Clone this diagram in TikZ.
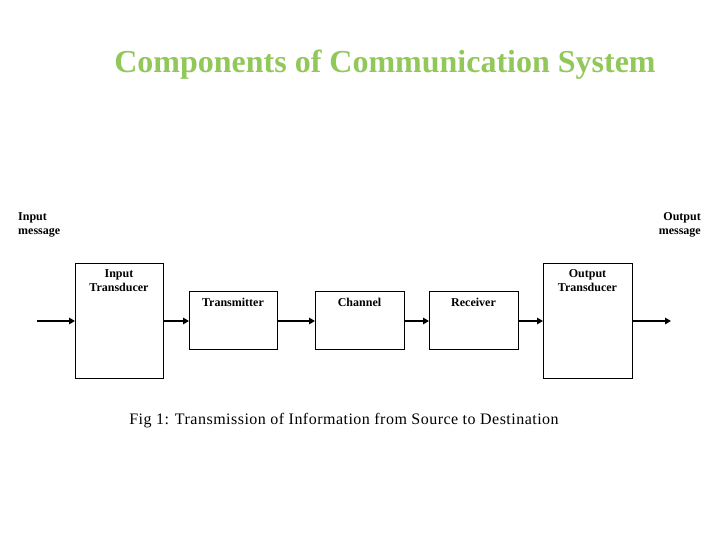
\documentclass[tikz,border=0pt]{standalone}
\usepackage{fontspec}
\setmainfont{Liberation Serif}
\usetikzlibrary{arrows.meta}
\definecolor{titlegreen}{HTML}{92C85A}
\begin{document}
\begin{tikzpicture}[x=1pt,y=-1pt,
  blk/.style={draw,line width=0.8pt,inner sep=0pt,outer sep=0pt},
  lbl/.style={font=\fontsize{12}{14}\selectfont\bfseries,align=center,inner sep=0pt},
  conn/.style={line width=1.8pt,-{Triangle[length=6pt,width=6.5pt]}}]
\useasboundingbox (0,0) rectangle (720,540);
\node[font=\fontsize{32}{36}\selectfont\bfseries,text=titlegreen] (title) at (385,65) {Components of Communication System};
% boxes
\node[blk,minimum width=88pt,minimum height=115pt] (it) at (119,320.5) {};
\node[blk,minimum width=88pt,minimum height=58pt] (tx) at (233,320) {};
\node[blk,minimum width=89pt,minimum height=58pt] (ch) at (359.5,320) {};
\node[blk,minimum width=89pt,minimum height=58pt] (rx) at (473.5,320) {};
\node[blk,minimum width=89pt,minimum height=115pt] (ot) at (587.5,320.5) {};
% labels
\node[lbl,anchor=north] (itl) at (119,269) {Input\\Transducer};
\node[lbl,anchor=north] (txl) at (233,298) {Transmitter};
\node[lbl,anchor=north] (chl) at (359.5,298) {Channel};
\node[lbl,anchor=north] (rxl) at (473.5,298) {Receiver};
\node[lbl,anchor=north] (otl) at (587.5,269) {Output\\Transducer};
\node[lbl,align=left,anchor=north west] (inm) at (18,212) {Input\\message};
\node[lbl,align=right,anchor=north east] (outm) at (701,212) {Output\\message};
% connectors
\coordinate (src) at (37,321);
\coordinate (dst) at (671,321);
\draw[conn] (src) -- (it.west|-src);
\draw[conn] (it.east|-src) -- (tx.west|-src);
\draw[conn] (tx.east|-src) -- (ch.west|-src);
\draw[conn] (ch.east|-src) -- (rx.west|-src);
\draw[conn] (rx.east|-src) -- (ot.west|-src);
\draw[conn] (ot.east|-src) -- (dst);
% caption
\node[font=\fontsize{16}{18}\selectfont\addfontfeature{LetterSpace=3}] (cap) at (344,421) {Fig 1: Transmission of Information from Source to Destination};
\end{tikzpicture}
\end{document}
